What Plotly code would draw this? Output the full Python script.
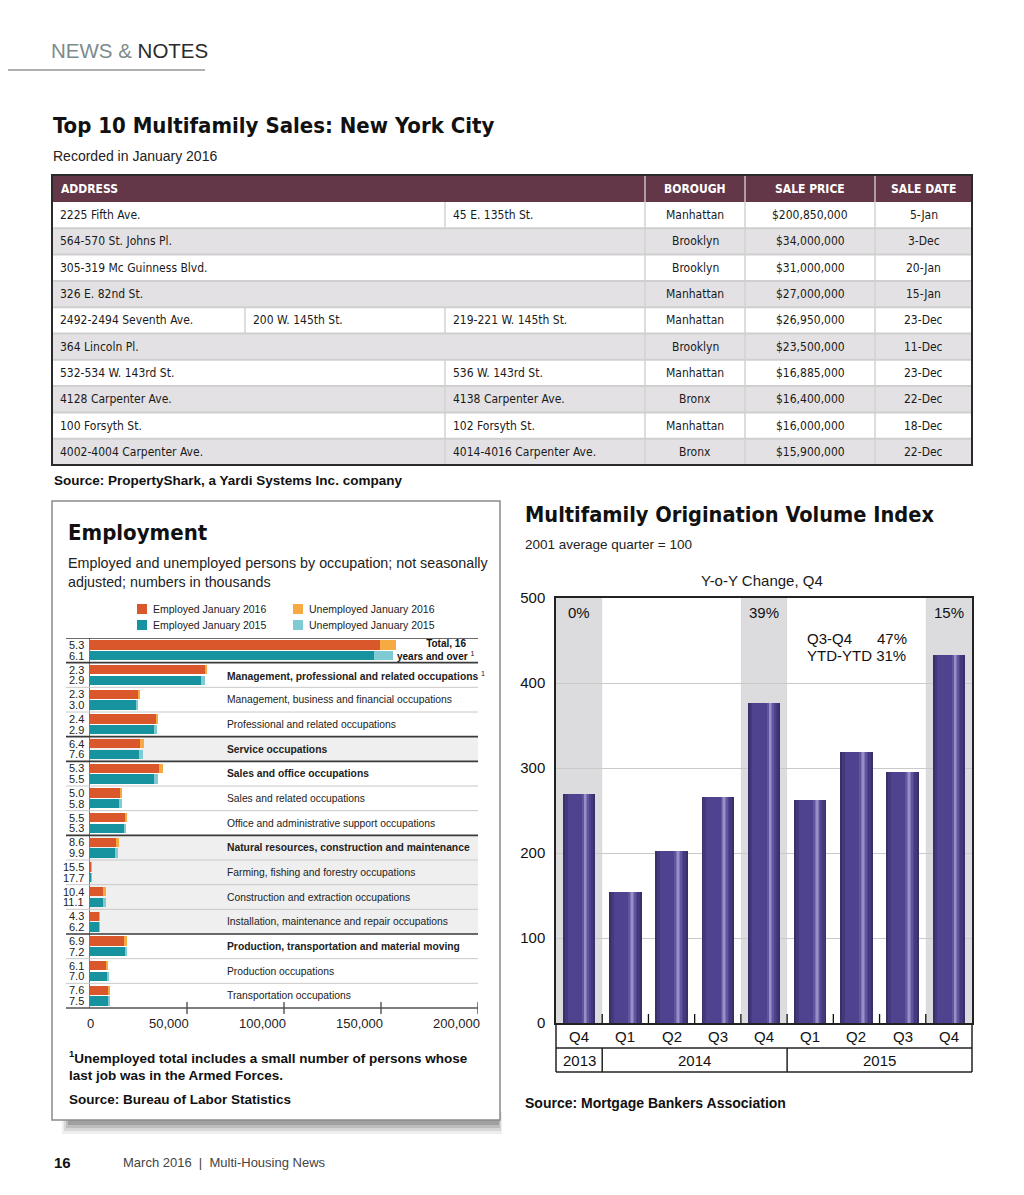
import plotly.graph_objects as go

W, H = 1024, 1195
PAGE_OFF = 8  # page body margin of the browser
def X(px): return (px - PAGE_OFF) / W
def Y(py): return 1 - (py - PAGE_OFF) / H

NARROW = "DejaVu Sans Condensed, Liberation Sans Narrow, sans-serif"
SANS = "Liberation Sans, Arial, Helvetica, sans-serif"

# ---------------- Data ----------------
table_columns = ["ADDRESS", "BOROUGH", "SALE PRICE", "SALE DATE"]
sale_addresses = [
    ["2225 Fifth Ave.", "45 E. 135th St."],
    ["564-570 St. Johns Pl."],
    ["305-319 Mc Guinness Blvd."],
    ["326 E. 82nd St."],
    ["2492-2494 Seventh Ave.", "200 W. 145th St.", "219-221 W. 145th St."],
    ["364 Lincoln Pl."],
    ["532-534 W. 143rd St.", "536 W. 143rd St."],
    ["4128 Carpenter Ave.", "4138 Carpenter Ave."],
    ["100 Forsyth St.", "102 Forsyth St."],
    ["4002-4004 Carpenter Ave.", "4014-4016 Carpenter Ave."],
]
sale_boroughs = ["Manhattan", "Brooklyn", "Brooklyn", "Manhattan", "Manhattan",
                 "Brooklyn", "Manhattan", "Bronx", "Manhattan", "Bronx"]
sale_prices = ["$200,850,000", "$34,000,000", "$31,000,000", "$27,000,000", "$26,950,000",
               "$23,500,000", "$16,885,000", "$16,400,000", "$16,000,000", "$15,900,000"]
sale_dates = ["5-Jan", "3-Dec", "20-Jan", "15-Jan", "23-Dec",
              "11-Dec", "23-Dec", "22-Dec", "18-Dec", "22-Dec"]

emp_categories = [
    "Total, 16 years and over",
    "Management, professional and related occupations",
    "Management, business and financial occupations",
    "Professional and related occupations",
    "Service occupations",
    "Sales and office occupations",
    "Sales and related occupations",
    "Office and administrative support occupations",
    "Natural resources, construction and maintenance",
    "Farming, fishing and forestry occupations",
    "Construction and extraction occupations",
    "Installation, maintenance and repair occupations",
    "Production, transportation and material moving",
    "Production occupations",
    "Transportation occupations",
]
emp_major = [True, True, False, False, True, True, False, False, True, False, False, False, True, False, False]
employed_2016 = [149400, 59100, 25000, 34100, 25800, 35700, 15700, 18100, 13400, 800, 7200, 4800, 17600, 8600, 9500]
unemployed_2016 = [8300, 1300, 600, 800, 1800, 2000, 800, 1050, 1300, 150, 850, 220, 1300, 550, 780]
employed_2015 = [146400, 57400, 23800, 33500, 25300, 33200, 15400, 17600, 13100, 850, 7200, 4700, 17900, 8800, 9400]
unemployed_2015 = [9600, 1700, 700, 1000, 2100, 1950, 950, 1000, 1450, 180, 900, 310, 1400, 650, 760]
rate_2016 = ["5.3", "2.3", "2.3", "2.4", "6.4", "5.3", "5.0", "5.5", "8.6", "15.5", "10.4", "4.3", "6.9", "6.1", "7.6"]
rate_2015 = ["6.1", "2.9", "3.0", "2.9", "7.6", "5.5", "5.8", "5.3", "9.9", "17.7", "11.1", "6.2", "7.2", "7.0", "7.5"]
emp_ticks = [0, 50000, 100000, 150000, 200000]

quarters = ["Q4", "Q1", "Q2", "Q3", "Q4", "Q1", "Q2", "Q3", "Q4"]
quarter_years = ["2013", "2014", "2014", "2014", "2014", "2015", "2015", "2015", "2015"]
origination_index = [270, 154, 202, 266, 376, 262, 319, 295, 433]
yoy_q4_change = ["0%", "39%", "15%"]
orig_ticks = [0, 100, 200, 300, 400, 500]

# ---------------- Figure ----------------
fig = go.Figure()
shapes, ann = [], []

def text(x, y, s, size=13, color="#1a1a1a", family=SANS, xanchor="left", yanchor="middle", **kw):
    ann.append(dict(x=X(x), y=Y(y), xref="paper", yref="paper", text=s, showarrow=False,
                    xanchor=xanchor, yanchor=yanchor,
                    font=dict(size=size, color=color, family=family), **kw))

def rect(x0, y0, x1, y1, fill=None, line=None, lw=0, layer="below", opacity=1):
    shapes.append(dict(type="rect", xref="paper", yref="paper", x0=X(x0), x1=X(x1), y0=Y(y0), y1=Y(y1),
                       fillcolor=fill or "rgba(0,0,0,0)", line=dict(color=line or "rgba(0,0,0,0)", width=lw),
                       layer=layer, opacity=opacity))

def hline(x0, x1, y, color="#333", w=1, layer="above"):
    shapes.append(dict(type="line", xref="paper", yref="paper", x0=X(x0), x1=X(x1), y0=Y(y), y1=Y(y),
                       line=dict(color=color, width=w), layer=layer))

def vline(x, y0, y1, color="#333", w=1, layer="above"):
    shapes.append(dict(type="line", xref="paper", yref="paper", x0=X(x), x1=X(x), y0=Y(y0), y1=Y(y1),
                       line=dict(color=color, width=w), layer=layer))

# ---- page header ----
text(49, 50, "<span style='color:#7d8b8c'>NEWS &amp;</span> NOTES", size=20.5, color="#2b2b2b")
hline(0, 205, 70, color="#b0b0b0", w=2)
text(51, 125, "<b>Top 10 Multifamily Sales: New York City</b>", size=22, color="#111", family=NARROW)
text(51, 156, "Recorded in January 2016", size=14, color="#222")

# ---- table ----
T_L, T_R = 52, 972
head_top, head_bot = 175, 202
row_h = 26.3
col_x = [52, 645, 745, 875, 972]
rect(T_L, head_top, T_R, head_bot, fill="#633648", layer="above")
for cx in col_x[1:-1]:
    vline(cx, head_top, head_bot, color="#ffffff", w=1)
text(59, (head_top + head_bot) / 2, "<b>" + table_columns[0] + "</b>", size=12, color="white", family=NARROW)
for j in range(1, 4):
    text((col_x[j] + col_x[j + 1]) / 2, (head_top + head_bot) / 2, "<b>" + table_columns[j] + "</b>",
         size=12, color="white", family=NARROW, xanchor="center")
for r in range(len(sale_addresses)):
    y0 = head_bot + r * row_h
    y1 = y0 + row_h
    yc = (y0 + y1) / 2
    rect(T_L, y0, T_R, y1, fill=("#ffffff" if r % 2 == 0 else "#e3e1e3"))
    if r > 0:
        hline(T_L, T_R, y0, color="#cfcfcf", w=2)
    parts = sale_addresses[r]
    xs = [52, 245, 445] if len(parts) == 3 else ([52, 445] if len(parts) == 2 else [52])
    for k, (p, px) in enumerate(zip(parts, xs)):
        if k > 0:
            vline(px, y0, y1, color="#d2d2d2", w=1.5)
        text(px + 6, yc, p, size=12, color="#1a1a1a", family=NARROW)
    for cx in col_x[1:-1]:
        vline(cx, y0, y1, color="#d2d2d2", w=1.5)
    text((col_x[1] + col_x[2]) / 2, yc, sale_boroughs[r], size=12, family=NARROW, xanchor="center")
    text((col_x[2] + col_x[3]) / 2, yc, sale_prices[r], size=12, family=NARROW, xanchor="center")
    text((col_x[3] + col_x[4]) / 2, yc, sale_dates[r], size=12, family=NARROW, xanchor="center")
t_bot = head_bot + row_h * len(sale_addresses)
rect(T_L, head_top, T_R, t_bot, line="#2a2a2a", lw=2, layer="above")
text(52, 480, "<b>Source: PropertyShark, a Yardi Systems Inc. company</b>", size=13.5, color="#111")

# ---- employment box ----
for k, op in enumerate([0.10, 0.14, 0.20, 0.28]):
    rect(62 + k * 2, 1112, 502 - k, 1122 + 12 - k * 3, fill="#555", opacity=op)
rect(52, 501, 500, 1120, fill="white", line="#8a8a8a", lw=1.5)
text(66, 532, "<b>Employment</b>", size=22, color="#111", family=NARROW)
text(66, 563, "Employed and unemployed persons by occupation; not seasonally", size=14.3, color="#222")
text(66, 582, "adjusted; numbers in thousands", size=14.3, color="#222")

C_E16, C_U16, C_E15, C_U15 = "#d9572b", "#f6aa41", "#17939f", "#80cad4"
legend_items = [(137, 609, C_E16, "Employed January 2016"), (137, 625, C_E15, "Employed January 2015"),
                (293, 609, C_U16, "Unemployed January 2016"), (293, 625, C_U15, "Unemployed January 2015")]
for lx, ly, lc, lt in legend_items:
    rect(lx, ly - 5, lx + 10, ly + 5, fill=lc, layer="above")
    text(lx + 14, ly, lt, size=10.5, color="#222")

n = len(emp_categories)
ypos16 = [i - 0.22 for i in range(n)]
ypos15 = [i + 0.22 for i in range(n)]
bw = 0.38
fig.add_trace(go.Bar(x=employed_2016, y=ypos16, orientation="h", width=bw, marker=dict(color=C_E16, line_width=0),
                     name="Employed January 2016", xaxis="x", yaxis="y"))
fig.add_trace(go.Bar(x=unemployed_2016, base=employed_2016, y=ypos16, orientation="h", width=bw,
                     marker=dict(color=C_U16, line_width=0), name="Unemployed January 2016", xaxis="x", yaxis="y"))
fig.add_trace(go.Bar(x=employed_2015, y=ypos15, orientation="h", width=bw, marker=dict(color=C_E15, line_width=0),
                     name="Employed January 2015", xaxis="x", yaxis="y"))
fig.add_trace(go.Bar(x=unemployed_2015, base=employed_2015, y=ypos15, orientation="h", width=bw,
                     marker=dict(color=C_U15, line_width=0), name="Unemployed January 2015", xaxis="x", yaxis="y"))

E_L, E_R = 90, 478
E_T, E_B = 638, 1008
shaded = [4, 8, 9, 10, 11]
for i in range(n):
    if i in shaded:
        shapes.append(dict(type="rect", xref="paper", yref="y", x0=X(E_L), x1=X(E_R), y0=i - 0.5, y1=i + 0.5,
                           fillcolor="#efefef", line=dict(width=0), layer="below"))
    major = emp_major[i]
    shapes.append(dict(type="line", xref="paper", yref="y", x0=X(66), x1=X(E_R), y0=i - 0.5, y1=i - 0.5,
                       line=dict(color="#3a3a3a" if major else "#c8c8c8", width=1.6 if major else 1), layer="above"))
    ann.append(dict(x=X(86), y=ypos16[i], xref="paper", yref="y", text=rate_2016[i], showarrow=False,
                    xanchor="right", yanchor="middle", font=dict(size=11, color="#222", family=SANS)))
    ann.append(dict(x=X(86), y=ypos15[i], xref="paper", yref="y", text=rate_2015[i], showarrow=False,
                    xanchor="right", yanchor="middle", font=dict(size=11, color="#222", family=SANS)))
    if i == 0:
        ann.append(dict(x=X(476), y=i, xref="paper", yref="y",
                        text="<b>Total, 16</b>   <br><b>years and over</b> <sup>1</sup>", showarrow=False,
                        xanchor="right", yanchor="middle", align="right",
                        font=dict(size=10, color="#111", family=SANS)))
    else:
        lab = emp_categories[i]
        if major:
            lab = "<b>" + lab + "</b>"
        if i == 1:
            lab += " <sup>1</sup>"
        ann.append(dict(x=X(225), y=i, xref="paper", yref="y", text=lab, showarrow=False,
                        xanchor="left", yanchor="middle", font=dict(size=10.3, color="#222", family=SANS)))
hline(66, E_R, E_B, color="#555", w=1.5)
for tv in emp_ticks[1:]:
    shapes.append(dict(type="line", xref="x", yref="paper", x0=tv, x1=tv, y0=Y(E_B - 6), y1=Y(E_B + 6),
                       line=dict(color="#444", width=1.3), layer="above"))
for tv in emp_ticks:
    ann.append(dict(x=tv, y=Y(1023), xref="x", yref="paper", text=f"{tv:,}", showarrow=False,
                    xanchor="center" if tv == 0 else "right", xshift=0 if tv == 0 else 4, yanchor="middle",
                    font=dict(size=13, color="#222", family=SANS)))

text(67, 1057, "<b><sup>1</sup>Unemployed total includes a small number of persons whose</b>", size=13.5, color="#111")
text(67, 1075, "<b>last job was in the Armed Forces.</b>", size=13.5, color="#111")
text(67, 1099, "<b>Source: Bureau of Labor Statistics</b>", size=13.5, color="#111")

# ---- origination chart ----
O_L, O_R, O_T, O_B = 556, 972, 598, 1023
text(523, 515, "<b>Multifamily Origination Volume Index</b>", size=21.6, color="#111", family=NARROW)
text(523, 545, "2001 average quarter = 100", size=13.5, color="#222")
text((O_L + O_R) / 2 - 2, 580, "Y-o-Y Change, Q4", size=15, color="#1a1a1a", xanchor="center")

xi = list(range(len(quarters)))
q4_idx = [i for i, q in enumerate(quarters) if q == "Q4"]
for k, i in enumerate(q4_idx):
    shapes.append(dict(type="rect", xref="x2", yref="y2", x0=i - 0.5, x1=i + 0.5, y0=0, y1=orig_ticks[-1],
                       fillcolor="#dcdcde", line=dict(width=0), layer="below"))
    ann.append(dict(x=i, y=Y(612), xref="x2", yref="paper", text=yoy_q4_change[k], showarrow=False,
                    xanchor="center", yanchor="middle", font=dict(size=15, color="#111", family=SANS)))
text(805, 638, "Q3-Q4&nbsp;&nbsp;&nbsp;&nbsp;&nbsp;&nbsp;47%", size=15, color="#111")
text(805, 656, "YTD-YTD 31%", size=15, color="#111")

layers = [(0.70, -0.35, "#3a2e6b"), (0.62, -0.31, "#45397d"), (0.50, -0.25, "#4f4390"),
          (0.16, 0.06, "#62559f"), (0.08, 0.10, "#7f74b6"), (0.03, 0.125, "#978fc6")]
for wdt, off, col in layers:
    fig.add_trace(go.Bar(x=xi, y=origination_index, width=wdt, offset=off, marker=dict(color=col, line_width=0),
                         xaxis="x2", yaxis="y2", showlegend=False))

for i in xi[:-1]:
    shapes.append(dict(type="line", xref="x2", yref="paper", x0=i + 0.5, x1=i + 0.5, y0=Y(O_B), y1=Y(O_B - 9),
                       line=dict(color="#111", width=1.3), layer="above"))
for i, q in enumerate(quarters):
    ann.append(dict(x=i, y=Y(1036), xref="x2", yref="paper", text=q, showarrow=False,
                    xanchor="center", yanchor="middle", font=dict(size=15, color="#111", family=SANS)))
# year row
hline(O_L, O_R, 1048, color="#222", w=1.5)
hline(O_L, O_R, 1072, color="#222", w=1.5)
vline(O_L, O_B, 1072, color="#222", w=1.5)
vline(O_R, O_B, 1072, color="#222", w=1.5)
groups = []
for i, yr in enumerate(quarter_years):
    if groups and groups[-1][0] == yr:
        groups[-1][2] = i
    else:
        groups.append([yr, i, i])
for gi, (yr, a, b) in enumerate(groups):
    if gi > 0:
        shapes.append(dict(type="line", xref="x2", yref="paper", x0=a - 0.5, x1=a - 0.5, y0=Y(1048), y1=Y(1072),
                           line=dict(color="#222", width=1.5), layer="above"))
    ann.append(dict(x=(a + b) / 2, y=Y(1060), xref="x2", yref="paper", text=yr, showarrow=False,
                    xanchor="center", yanchor="middle", font=dict(size=15, color="#111", family=SANS)))
text(523, 1103, "<b>Source: Mortgage Bankers Association</b>", size=14, color="#111")

# ---- footer ----
text(52, 1162, "<b>16</b>", size=15, color="#111")
text(121, 1162, "March 2016&nbsp;&nbsp;|&nbsp;&nbsp;Multi-Housing News", size=13, color="#444")

fig.update_layout(
    width=W, height=H, margin=dict(l=0, r=0, t=0, b=0, autoexpand=False),
    paper_bgcolor="white", plot_bgcolor="rgba(0,0,0,0)",
    barmode="overlay", bargap=0, showlegend=False,
    shapes=shapes, annotations=ann,
    xaxis=dict(domain=[X(E_L), X(E_R)], range=[0, 200000], showticklabels=False,
               showgrid=False, zeroline=False, showline=False, ticks="", anchor="y", automargin=False,
               fixedrange=True),
    yaxis=dict(domain=[Y(E_B), Y(E_T)], range=[n - 0.5, -0.5], showticklabels=False, showgrid=False,
               zeroline=False, showline=True, linecolor="#777", linewidth=1, ticks="", anchor="x",
               automargin=False, fixedrange=True),
    xaxis2=dict(domain=[X(O_L), X(O_R)], range=[-0.5, len(quarters) - 0.5], showticklabels=False,
                showgrid=False, zeroline=False, showline=True, mirror=True, linecolor="#222", linewidth=1.5,
                ticks="", anchor="y2", automargin=False, fixedrange=True),
    yaxis2=dict(domain=[Y(O_B), Y(O_T)], range=[0, 500], tickvals=orig_ticks, showgrid=True,
                gridcolor="#c9c9c9", gridwidth=1, zeroline=False, showline=True, mirror=True,
                linecolor="#222", linewidth=1.5, ticks="", ticklabelstandoff=6, anchor="x2",
                automargin=False, tickfont=dict(size=15, color="#111", family=SANS), fixedrange=True),
)
fig.write_html("out.html")
